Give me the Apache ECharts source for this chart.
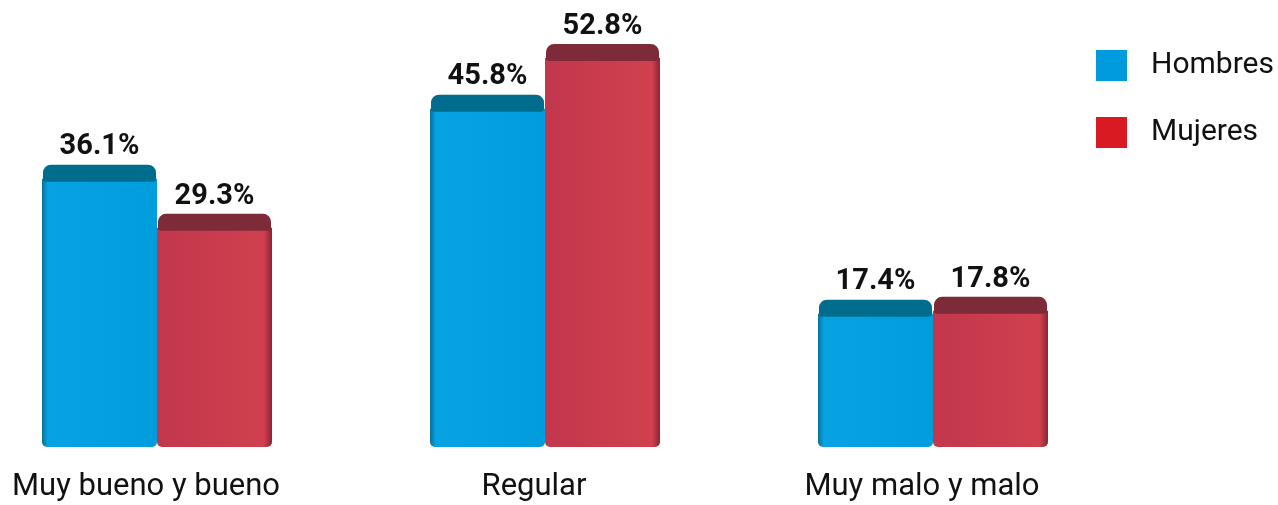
<!DOCTYPE html>
<html><head><meta charset="utf-8">
<script src="https://cdn.jsdelivr.net/npm/echarts@6/dist/echarts.min.js"></script>
<style>html,body{margin:0;padding:0;background:#fff}#c{width:1278px;height:505px}</style>
</head><body><div id="c"></div>
<script>
const categories = ['Muy bueno y bueno', 'Regular', 'Muy malo y malo'];
const hombres = [36.1, 45.8, 17.4];
const mujeres = [29.3, 52.8, 17.8];
const seriesNames = ['Hombres', 'Mujeres'];

const Y_MIN = -3;
const chart = echarts.init(document.getElementById('c'));
const styles = [
  { legend: '#009BDF', top: '#006D8E',
    front: new echarts.graphic.LinearGradient(0,0,1,0,[{offset:0,color:'#05729A'},{offset:0.05,color:'#07A2E1'},{offset:1,color:'#009DDC'}]) },
  { legend: '#DA1A22', top: '#7E2B39',
    front: new echarts.graphic.LinearGradient(0,0,1,0,[{offset:0,color:'#C2374C'},{offset:0.93,color:'#D0404F'},{offset:1,color:'#8A2433'}]) }
];
function makeRender(si) {
  return function (params, api) {
    const i = api.value(0), v = api.value(1);
    const t = api.coord([i, v]);
    const b = api.coord([i, Y_MIN]);
    const w = 115;
    const x0 = si === 0 ? t[0] - w : t[0];
    const st = styles[si];
    return {
      type: 'group',
      children: [
        { type: 'rect', shape: { x: x0, y: t[1] + 14, width: w, height: b[1] - t[1] - 14, r: [0, 0, 5, 5] }, style: { fill: st.front } },
        { type: 'rect', shape: { x: x0 + 1, y: t[1], width: w - 2, height: 17, r: [8, 8, 3, 3] }, style: { fill: st.top } },
        { type: 'text', x: x0 + w / 2, y: t[1] - 3, style: { text: v.toFixed(1) + '%', fill: '#111', font: 'bold 29px Roboto', align: 'center', verticalAlign: 'bottom' } }
      ]
    };
  };
}
chart.setOption({
  animation: false,
  grid: { left: 157, right: 345, top: 21, bottom: 58 },
  legend: {
    orient: 'vertical', left: 1096, top: 50, padding: 0, itemWidth: 31, itemHeight: 31, itemGap: 36,
    icon: 'rect', data: seriesNames,
    textStyle: { fontFamily: 'Roboto', fontSize: 30, color: '#111', padding: [0, 0, 0, 19] }
  },
  xAxis: {
    type: 'category', data: categories, boundaryGap: false,
    axisLine: { show: false }, axisTick: { show: false },
    axisLabel: { fontFamily: 'Roboto', fontSize: 31, color: '#111', margin: 25, padding: [0, 22, 0, 0] }
  },
  yAxis: { type: 'value', min: Y_MIN, max: 56, show: false, splitLine: { show: false } },
  series: [
    { name: seriesNames[0], type: 'custom', itemStyle: { color: styles[0].legend }, renderItem: makeRender(0), data: hombres.map((v, i) => [i, v]) },
    { name: seriesNames[1], type: 'custom', itemStyle: { color: styles[1].legend }, renderItem: makeRender(1), data: mujeres.map((v, i) => [i, v]) }
  ]
});
</script></body></html>
